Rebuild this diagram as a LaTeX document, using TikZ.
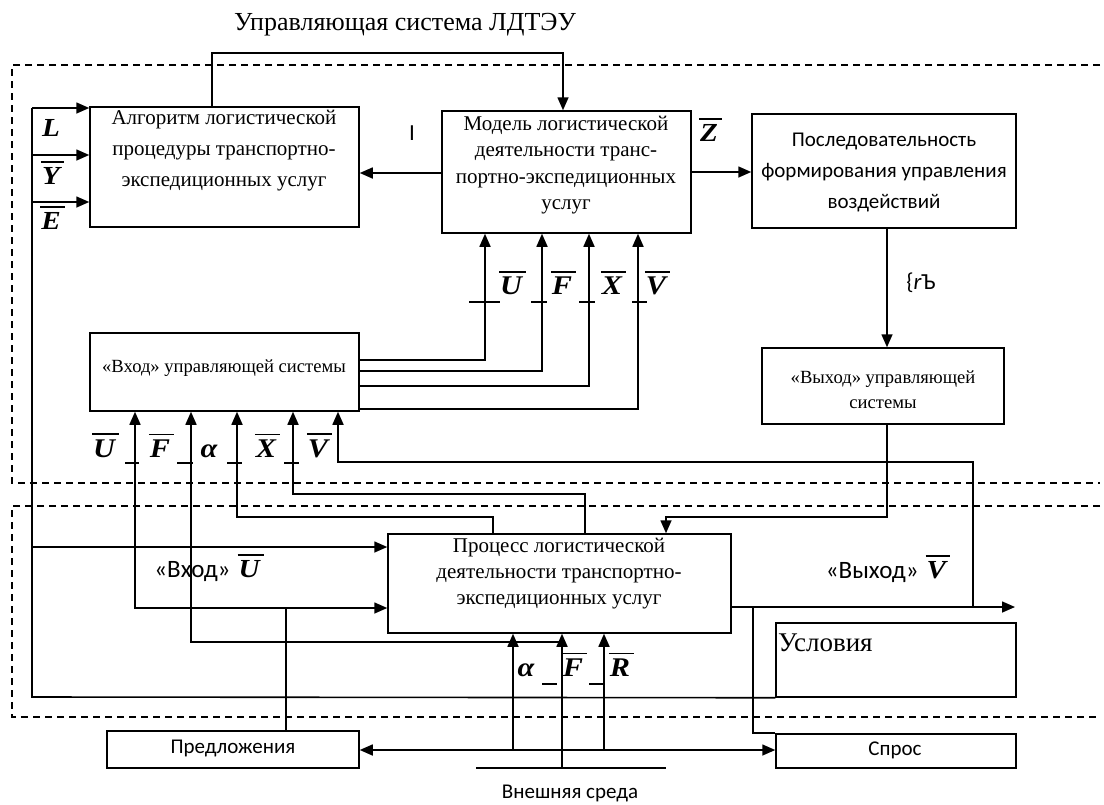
\documentclass[tikz,border=0pt]{standalone}
\usepackage{fontspec}
\usepackage{graphicx}
\setmainfont{Liberation Serif}
\newfontfamily\calfont{Carlito}
\usetikzlibrary{arrows.meta}
\newcommand{\ob}[1]{\setbox0=\hbox{\scalebox{1.12}[1]{\bfseries\itshape #1}}\leavevmode\rlap{\kern-1pt\raise\dimexpr\ht0+4.5pt\relax\hbox{\rule{\dimexpr\wd0+5pt\relax}{1.7pt}}}\box0}
\newcommand{\bi}[1]{\scalebox{1.12}[1]{\bfseries\itshape #1}}
\begin{document}
\begin{tikzpicture}[x=1pt,y=-1pt,
  ln/.style={line width=1.6pt},
  arr/.style={ln,-{Triangle[length=13pt,width=11pt]}},
  darr/.style={ln,{Triangle[length=13pt,width=11pt]}-{Triangle[length=13pt,width=11pt]}},
  box/.style={draw,line width=1.5pt,inner sep=0pt},
  dsh/.style={line width=1.3pt,dash pattern=on 7pt off 5pt},
  lbl/.style={font=\fontsize{27}{27}\selectfont,inner sep=0pt},
  lbll/.style={font=\fontsize{26}{26}\selectfont,inner sep=0pt},
  tser/.style={font=\fontsize{21}{31}\selectfont,inner sep=0pt,align=center},
  tsans/.style={font=\calfont\fontsize{21}{31}\selectfont,inner sep=0pt,align=center},
  tsmall/.style={font=\fontsize{18.6}{25}\selectfont,inner sep=0pt,align=center},
  tick/.style={line width=1.4pt}
]
\useasboundingbox (0,0) rectangle (1104,804);

% dashed frames
\draw[dsh] (1100,65) -- (12,65) -- (12,483) -- (1100,483);
\draw[dsh] (1100,506) -- (12,506) -- (12,717) -- (1100,717);

% title
\node[font=\fontsize{26}{30}\selectfont,inner sep=0pt] (title) at (405,25) {Управляющая система ЛДТЭУ};

% boxes
\node[box,minimum width=269pt,minimum height=120pt] (A) at (224.5,167) {};
\node[box,minimum width=249pt,minimum height=122pt] (M) at (566.5,172) {};
\node[box,minimum width=264pt,minimum height=114pt] (P) at (884,171) {};
\node[box,minimum width=269pt,minimum height=78pt] (Vx) at (224.5,372) {};
\node[box,minimum width=242pt,minimum height=76pt] (Vyx) at (883,386) {};
\node[box,minimum width=343pt,minimum height=99pt] (Pr) at (559.5,583.5) {};
\node[box,minimum width=240pt,minimum height=74pt] (Usl) at (896,660) {};
\node[box,minimum width=252pt,minimum height=37pt] (Pred) at (233,749.5) {};
\node[box,minimum width=240pt,minimum height=34pt] (Spros) at (896,751) {};

% box texts
\node[tser] (tA) at (224,151) {Алгоритм логистической\\процедуры транспортно-\\экспедиционных услуг};
\node[tser,font=\fontsize{21}{26.5}\selectfont] (tM) at (566,165) {Модель логистической\\деятельности транс-\\портно-экспедиционных\\услуг};
\node[tsans] (tP) at (884,172) {Последовательность\\формирования управления\\воздействий};
\node[tsmall] (tVx) at (224,368) {«Вход» управляющей системы};
\node[tsmall] (tVyx) at (883,390) {«Выход» управляющей\\системы};
\node[tser,font=\fontsize{21}{26}\selectfont] (tPr) at (559,574) {Процесс логистической\\деятельности транспортно-\\экспедиционных услуг};
\node[font=\fontsize{27}{30}\selectfont,inner sep=0pt,anchor=west] (tUsl) at (778,643) {Условия};
\node[tsans,font=\calfont\fontsize{21}{24}\selectfont] (tPred) at (233,748) {Предложения};
\node[tsans,font=\calfont\fontsize{21}{24}\selectfont] (tSpros) at (895,750) {Спрос};
\node[tsans,font=\calfont\fontsize{21}{24}\selectfont] (tExt) at (570,793) {Внешняя среда};

% top connector A -> M
\draw[arr] (212,0 |- A.north) |- (563,53) -- (563,0 |- M.north);
% M -> A, M -> P
\draw[arr] (M.west |- 0,173) -- (A.east |- 0,173);
\node[tsans,font=\calfont\fontsize{23}{24}\selectfont] (lI) at (412,133) {I};
\draw[arr] (M.east |- 0,172) -- (P.west |- 0,172);
\node[lbll] (lZ) at (709,129.5) {\ob{Z}};

% left inputs
\coordinate (bus) at (32,108);
\draw[arr] (bus) -- (A.west |- 0,108);
\draw[arr] (32,155) -- (A.west |- 0,155);
\draw[arr] (32,202) -- (A.west |- 0,202);
\draw[ln] (bus) -- (32,697) -- (Usl.south west);
\draw[arr] (32,547) -- (Pr.west |- 0,547);
\node[lbll] (lL) at (51,128) {\bi{L}};
\node[lbll] (lY) at (51,173) {\ob{Y}};
\node[lbll] (lE) at (51,218) {\ob{E}};

% Vx -> M
\draw[arr] (Vx.east |- 0,360) -| (485,0 |- M.south);
\draw[arr] (Vx.east |- 0,371) -| (542,0 |- M.south);
\draw[arr] (Vx.east |- 0,386) -| (589,0 |- M.south);
\draw[arr] (Vx.east |- 0,409) -| (638,0 |- M.south);
\draw[tick] (469,302) -- (500,302);
\draw[tick] (531,302) -- (547,302);
\draw[tick] (579,302) -- (595,302);
\draw[tick] (632,302) -- (647,302);
\node[lbl] (uU) at (511,283) {\ob{U}};
\node[lbl] (uF) at (562,283) {\ob{F}};
\node[lbl] (uX) at (612,283) {\ob{X}};
\node[lbl] (uV) at (656,283) {\ob{V}};

% P -> Vyx -> Pr
\draw[arr] (887,0 |- P.south) -- (887,0 |- Vyx.north);
\node[tsans,font=\calfont\fontsize{23}{24}\selectfont] (lr) at (921,283) {\{\textit{r}Ъ};
\draw[arr] (887,0 |- Vyx.south) |- (666,517) -- (666,0 |- Pr.north);

% inputs to Vx bottom
\draw[darr] (135,0 |- Vx.south) |- (Pr.west |- 0,608);
\draw[arr] (562,642) -| (191,0 |- Vx.south);
\draw[arr] (493,0 |- Pr.north) |- (237,517) -- (237,0 |- Vx.south);
\draw[arr] (585,0 |- Pr.north) |- (293,494) -- (293,0 |- Vx.south);
\coordinate (vj) at (973,607);
\draw[arr] (vj) |- (338,462) -- (338,0 |- Vx.south);
\draw[tick] (125,463) -- (139,463);
\draw[tick] (177,463) -- (193,463);
\draw[tick] (227,463) -- (242,463);
\draw[tick] (284,463) -- (299,463);
\node[lbl] (dU) at (104,445.5) {\ob{U}};
\node[lbl] (dF) at (160,445.5) {\ob{F}};
\node[lbl] (da) at (209,451) {\bi{α}};
\node[lbl] (dX) at (266,445.5) {\ob{X}};
\node[lbl] (dV) at (318,445.5) {\ob{V}};

% output
\coordinate (outV) at (1015,607);
\draw[arr] (Pr.east |- 0,607) -- (outV);
\node[inner sep=0pt] (lout) at (886,569) {{\calfont\fontsize{25}{26}\selectfont «Выход»}\hspace{8pt}{\fontsize{26}{26}\selectfont\ob{V}}};
\node[inner sep=0pt] (lin) at (207,568) {{\calfont\fontsize{25}{26}\selectfont «Вход»}\hspace{8pt}{\fontsize{26}{26}\selectfont\ob{U}}};
\draw[ln] (753,607) |- (Spros.north west);
\draw[ln] (286,608) -- (286,0 |- Pred.north);

% bottom
\draw[darr] (Pred.east |- 0,750) -- (Spros.west |- 0,750);
\draw[arr] (513,750) -- (513,0 |- Pr.south);
\draw[arr] (604,750) -- (604,0 |- Pr.south);
\coordinate (ext) at (562,768);
\draw[arr] (ext) -- (562,0 |- Pr.south);
\draw[ln] (476,768) -- (666,768);
\draw[tick] (542,684) -- (557,684);
\draw[tick] (589,684) -- (603,684);
\node[lbl] (ba) at (526,670) {\bi{α}};
\node[lbl] (bF) at (573,664.5) {\ob{F}};
\node[lbl] (bR) at (620,664.5) {\ob{R}};
\end{tikzpicture}
\end{document}
